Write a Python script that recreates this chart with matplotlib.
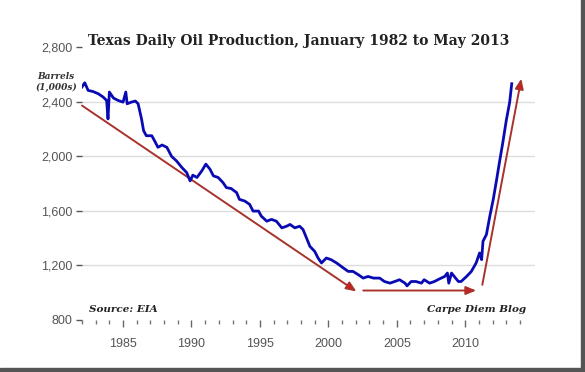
import matplotlib
matplotlib.use('Agg')
import matplotlib.pyplot as plt
from matplotlib.patches import Rectangle

# Texas daily oil production, thousand barrels
years = [1982.0, 1982.2, 1982.45, 1982.8, 1983.2, 1983.55, 1983.8, 1983.9, 1984.0, 1984.3,
         1984.65, 1985.0, 1985.2, 1985.3, 1985.6, 1985.9, 1986.1, 1986.35, 1986.5, 1986.7,
         1987.1, 1987.3, 1987.55, 1987.85, 1988.2, 1988.55, 1988.9, 1989.3, 1989.65, 1989.9,
         1990.1, 1990.4, 1990.75, 1991.05, 1991.35, 1991.6, 1991.95, 1992.3, 1992.55, 1992.9,
         1993.3, 1993.5, 1993.9, 1994.25, 1994.5, 1994.9, 1995.1, 1995.5, 1995.85, 1996.2,
         1996.6, 1996.95, 1997.2, 1997.55, 1997.9, 1998.15, 1998.4, 1998.65, 1999.0, 1999.25,
         1999.5, 1999.85, 2000.2, 2000.6, 2001.1, 2001.45, 2001.8, 2002.2, 2002.55, 2002.9,
         2003.3, 2003.75, 2004.1, 2004.5, 2004.85, 2005.2, 2005.6, 2005.75, 2006.05, 2006.4,
         2006.8, 2007.0, 2007.4, 2007.75, 2008.1, 2008.5, 2008.7, 2008.8, 2009.0, 2009.2,
         2009.5, 2009.7, 2010.1, 2010.45, 2010.8, 2011.05, 2011.2, 2011.3, 2011.55, 2011.8,
         2012.05, 2012.3, 2012.5, 2012.75, 2013.0, 2013.25, 2013.4]
barrels = [2507, 2538, 2482, 2474, 2457, 2433, 2408, 2273, 2470, 2426,
           2408, 2396, 2470, 2384, 2396, 2404, 2384, 2273, 2187, 2150,
           2150, 2113, 2065, 2082, 2065, 1998, 1966, 1917, 1880, 1819,
           1861, 1844, 1892, 1942, 1905, 1856, 1844, 1807, 1770, 1763,
           1733, 1684, 1671, 1647, 1598, 1598, 1561, 1524, 1537, 1524,
           1475, 1487, 1500, 1475, 1487, 1463, 1402, 1340, 1303, 1254,
           1218, 1254, 1242, 1218, 1181, 1156, 1156, 1131, 1107, 1119,
           1107, 1107, 1082, 1070, 1082, 1095, 1070, 1050, 1082, 1082,
           1070, 1095, 1070, 1082, 1100, 1119, 1144, 1070, 1144, 1119,
           1082, 1082, 1119, 1156, 1218, 1291, 1242, 1377, 1426, 1561,
           1684, 1831, 1954, 2101, 2261, 2396, 2531]

# trend arrows: (x0, y0, x1, y1)
arrows = [(1982.0, 2371, 2002.05, 1009),
          (2002.55, 1016, 2010.8, 1016),
          (2011.25, 1058, 2014.1, 2568)]

yticks = [800, 1200, 1600, 2000, 2400, 2800]
xmajor = [1985, 1990, 1995, 2000, 2005, 2010]
xminor = list(range(1982, 2015))

fig = plt.figure(figsize=(5.85, 3.72), dpi=100)
ax = fig.add_axes([82/585, 1 - 320/372, (535 - 82)/585, (320 - 47)/372])

for y in yticks[1:-1]:
    ax.axhline(y, color='#dcdcdc', lw=1, zorder=0)

ax.plot(years, barrels, color='#0a0ab4', lw=2.0, zorder=3)

for x0, y0, x1, y1 in arrows:
    ax.annotate('', xy=(x1, y1), xytext=(x0, y0),
                arrowprops=dict(arrowstyle='-|>,head_length=0.6,head_width=0.25',
                                color='#a8322c', lw=1.4, shrinkA=0, shrinkB=0,
                                fc='#d41a1a'), zorder=2)

ax.set_xlim(1982, 2015.1)
ax.set_ylim(800, 2800)
for s in ax.spines.values():
    s.set_visible(False)

ax.set_yticks(yticks)
ax.set_yticklabels(['{:,}'.format(v) for v in yticks])
ax.set_xticks(xmajor)
ax.set_xticklabels([str(v) for v in xmajor])
ax.set_xticks(xminor, minor=True)
ax.tick_params(axis='y', colors='#555555', labelcolor='#555555', length=4, width=1,
               pad=3, labelsize=9)
ax.tick_params(axis='x', which='major', colors='#666666', labelcolor='#555555',
               length=5, width=1, pad=8, labelsize=9)
ax.tick_params(axis='x', which='minor', colors='#777777', length=3, width=1)
for lab in ax.get_xticklabels() + ax.get_yticklabels():
    lab.set_family('Liberation Sans')

fig.text(299/585, 1 - 41/372, 'Texas Daily Oil Production, January 1982 to May 2013',
         ha='center', va='center', family='DejaVu Serif', weight='bold', fontsize=10,
         color='#222222')
fig.text(56/585, 1 - 82/372, 'Barrels\n(1,000s)', ha='center', va='center',
         family='DejaVu Serif', weight='bold', style='italic', fontsize=6.5,
         color='#333333', linespacing=1.3)
fig.text(89/585, 1 - 309/372, 'Source: EIA', ha='left', va='center',
         family='DejaVu Serif', weight='bold', style='italic', fontsize=7.5, color='#222222')
fig.text(526/585, 1 - 309/372, 'Carpe Diem Blog', ha='right', va='center',
         family='DejaVu Serif', weight='bold', style='italic', fontsize=7.5, color='#222222')

# picture frame shadow on the right and bottom
fig.patches.append(Rectangle((581/585, 3/372), 4/585, 1, transform=fig.transFigure,
                             color='#555555', zorder=5))
fig.patches.append(Rectangle((0, 0), 585/585, 4/372, transform=fig.transFigure,
                             color='#555555', zorder=5))

fig.savefig('out.png', dpi=100)
